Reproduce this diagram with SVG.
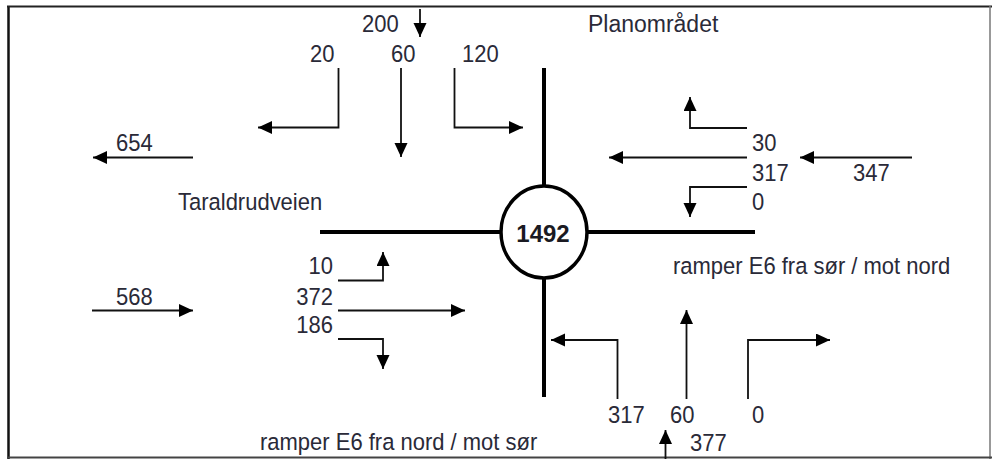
<svg xmlns="http://www.w3.org/2000/svg" width="992" height="459" viewBox="0 0 992 459">
<style>
.t{font-family:"Liberation Sans",Arial,sans-serif;font-size:22px;fill:#2a2a38}
.b{font-family:"Liberation Sans",Arial,sans-serif;font-size:24px;font-weight:bold;fill:#1a1a22}
.a{fill:none;stroke:#111;stroke-width:1.8;marker-end:url(#ah)}
.road{fill:none;stroke:#000;stroke-width:4}
</style>
<defs>
<marker id="ah" markerUnits="userSpaceOnUse" markerWidth="16" markerHeight="14" refX="14" refY="6.5" orient="auto">
<path d="M0,0 L14,6.5 L0,13 Z" fill="#000"/>
</marker>
</defs>
<rect width="992" height="459" fill="#fff"/>
<g id="frame">
<line x1="8.5" y1="6" x2="8.5" y2="459" stroke="#111" stroke-width="2.5"/>
<line x1="7" y1="6.5" x2="992" y2="6.5" stroke="#222" stroke-width="2"/>
<line x1="990" y1="6" x2="990" y2="459" stroke="#777" stroke-width="1.5"/>
<line x1="7" y1="457.5" x2="992" y2="457.5" stroke="#444" stroke-width="2"/>
</g>
<g id="roundabout">
<line class="road" x1="544" y1="68" x2="544" y2="186"/>
<line class="road" x1="544" y1="278" x2="544" y2="397"/>
<line class="road" x1="320" y1="232" x2="501" y2="232"/>
<line class="road" x1="587" y1="232" x2="755" y2="232"/>
<ellipse cx="544" cy="232" rx="43" ry="46" fill="#fff" stroke="#000" stroke-width="3.5"/>
<text class="b" x="543" y="242" text-anchor="middle">1492</text>
</g>
<g id="labels">
<text class="t" transform="translate(588,32) scale(1,1.03)" style="font-size:23px">Planområdet</text>
<text class="t" transform="translate(178,210) scale(1,1.08)">Taraldrudveien</text>
<text class="t" transform="translate(673,274) scale(1,1.08)">ramper E6 fra sør / mot nord</text>
<text class="t" transform="translate(260,450) scale(1,1.08)">ramper E6 fra nord / mot sør</text>
</g>
<g id="north-approach">
<text class="t" transform="translate(362,32) scale(1,1.08)">200</text>
<text class="t" transform="translate(310,62) scale(1,1.08)">20</text>
<text class="t" transform="translate(391,62) scale(1,1.08)">60</text>
<text class="t" transform="translate(462,62) scale(1,1.08)">120</text>
</g>
<g id="east-approach">
<text class="t" transform="translate(752,151) scale(1,1.08)">30</text>
<text class="t" transform="translate(752,181) scale(1,1.08)">317</text>
<text class="t" transform="translate(752,210) scale(1,1.08)">0</text>
<text class="t" transform="translate(853,181) scale(1,1.08)">347</text>
</g>
<g id="west-approach">
<text class="t" transform="translate(116,151) scale(1,1.08)">654</text>
<text class="t" transform="translate(116,305) scale(1,1.08)">568</text>
<text class="t" transform="translate(333,274) scale(1,1.08)" text-anchor="end">10</text>
<text class="t" transform="translate(333,305) scale(1,1.08)" text-anchor="end">372</text>
<text class="t" transform="translate(333,333) scale(1,1.08)" text-anchor="end">186</text>
</g>
<g id="south-approach">
<text class="t" transform="translate(608,423) scale(1,1.08)">317</text>
<text class="t" transform="translate(670,423) scale(1,1.08)">60</text>
<text class="t" transform="translate(752,423) scale(1,1.08)">0</text>
<text class="t" transform="translate(690,451) scale(1,1.08)">377</text>
</g>
<g id="connectors">
<path class="a" d="M420,9 V37"/>
<path class="a" d="M338.5,68 V127.5 H258"/>
<path class="a" d="M401,68 V157"/>
<path class="a" d="M454.5,68 V127.5 H523"/>
<path class="a" d="M747,128 H690 V97"/>
<path class="a" d="M747,157.5 H609"/>
<path class="a" d="M747,187 H690 V217"/>
<path class="a" d="M912,157.5 H800"/>
<path class="a" d="M193,157.5 H93"/>
<path class="a" d="M92,310.5 H193"/>
<path class="a" d="M338,280.5 H383 V252"/>
<path class="a" d="M338,310.5 H465"/>
<path class="a" d="M338,339 H383 V369"/>
<path class="a" d="M617.5,399 V340 H551"/>
<path class="a" d="M686.5,399 V310"/>
<path class="a" d="M748,399 V340 H830"/>
<path class="a" d="M665.5,459 V430"/>
</g>
</svg>
